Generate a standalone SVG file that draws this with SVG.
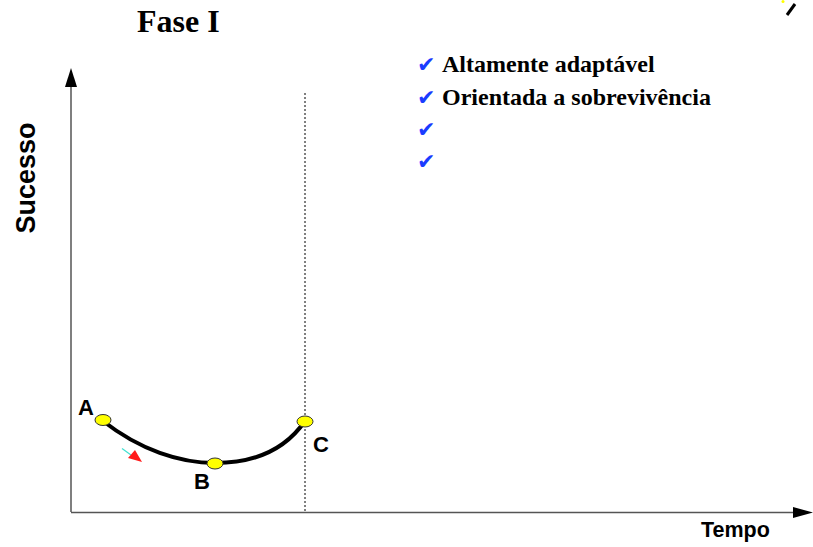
<svg xmlns="http://www.w3.org/2000/svg" width="813" height="547" viewBox="0 0 813 547">
<style>
.lbl{font-family:"Liberation Sans",Arial,sans-serif;font-weight:bold;fill:#000}
.ser{font-family:"Liberation Serif","Times New Roman",serif;font-weight:bold;fill:#000}
.chk{font-family:"DejaVu Sans",sans-serif;font-size:22px;fill:#1a3cff}
.pt{fill:#ffff00;stroke:#333;stroke-width:1}
</style>
<rect width="813" height="547" fill="#fff"/>
<g id="title"><text class="ser" x="137" y="32" font-size="32">Fase I</text></g>
<g id="axes">
<line x1="71" y1="512" x2="71" y2="85" stroke="#555" stroke-width="1.5"/>
<polygon points="71,68 65,87 77,87" fill="#000"/>
<line x1="71" y1="512.5" x2="795" y2="512.5" stroke="#555" stroke-width="1.5"/>
<polygon points="813,512.5 793,507 793,518" fill="#000"/>
<line x1="305" y1="93" x2="305" y2="512" stroke="#000" stroke-width="1" stroke-dasharray="2,2"/>
</g>
<g id="labels">
<text class="lbl" font-size="27" transform="translate(35,178) rotate(-90)" text-anchor="middle">Sucesso</text>
<text class="lbl" x="701" y="537" font-size="21.5">Tempo</text>
</g>
<g id="connectors">
<path d="M103,421 C140,450 180,463 215,463 C255,463 285,450 305,421" fill="none" stroke="#000" stroke-width="4"/>
<line x1="122" y1="448.5" x2="131" y2="455" stroke="#40e0d0" stroke-width="1.2"/>
<polygon points="142,462 128,458 135,450" fill="#ff1a1a"/>
</g>
<g id="nodeA"><ellipse class="pt" cx="103" cy="420" rx="8" ry="5.5"/><text class="lbl" x="78" y="415" font-size="22">A</text></g>
<g id="nodeB"><ellipse class="pt" cx="215" cy="463.5" rx="8" ry="5.5"/><text class="lbl" x="194" y="489" font-size="22">B</text></g>
<g id="nodeC"><ellipse class="pt" cx="305" cy="421.5" rx="8" ry="5.5"/><text class="lbl" x="313" y="452" font-size="22">C</text></g>
<g id="list">
<text class="chk" x="417" y="72">✔</text><text class="ser" x="442" y="72" font-size="24">Altamente adaptável</text>
<text class="chk" x="417" y="105">✔</text><text class="ser" x="442" y="105" font-size="24">Orientada a sobrevivência</text>
<text class="chk" x="417" y="137">✔</text>
<text class="chk" x="417" y="169">✔</text>
</g>
<g id="corner">
<circle cx="783" cy="1.5" r="1.5" fill="#ffff00"/>
<line x1="787" y1="15" x2="795" y2="4" stroke="#000" stroke-width="3"/>
</g>
</svg>
